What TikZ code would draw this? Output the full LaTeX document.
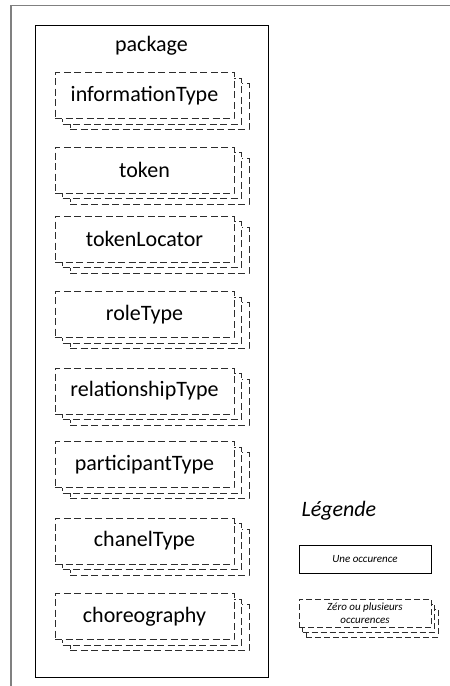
\documentclass[tikz,border=0pt]{standalone}
\usepackage{fontspec}
\setmainfont{Carlito}
\usetikzlibrary{shadows}

\definecolor{framegray}{RGB}{128,128,128}
\definecolor{dashgray}{RGB}{45,45,45}

\tikzset{
  dashbox/.style={draw=dashgray, dash pattern=on 7pt off 3.5pt, fill=white, line width=0.9pt},
  pile/.style={dashbox, minimum width=179pt, minimum height=46pt,
    font=\fontsize{22}{26}\selectfont,
    general shadow={shadow xshift=15pt, shadow yshift=-11pt, dashbox},
    general shadow={shadow xshift=7.5pt, shadow yshift=-5.5pt, dashbox}},
  smallpile/.style={dashbox, dash pattern=on 6pt off 3pt, minimum width=132pt, minimum height=28pt,
    align=center, font=\itshape\fontsize{11}{13.5}\selectfont,
    general shadow={shadow xshift=7pt, shadow yshift=-10pt, dashbox, dash pattern=on 6pt off 3pt},
    general shadow={shadow xshift=3.5pt, shadow yshift=-5pt, dashbox, dash pattern=on 6pt off 3pt}},
}

\begin{document}
\begin{tikzpicture}[x=1pt,y=-1pt]
  \useasboundingbox (0,0) rectangle (450,686);

  % outer frame, cut by the page
  \draw[framegray, line width=1.5pt] (11,700) -- (11,5.5) -- (470,5.5);

  % package
  \node[draw, line width=0.9pt, minimum width=233pt, minimum height=652pt] (package) at (151.5,351) {};
  \node[font=\fontsize{22}{26}\selectfont] (pkgname) at (151.5,46) {package};

  \foreach \name/\y in {informationType/95.5, token/170, tokenLocator/239, roleType/314.5,
      relationshipType/391, participantType/464.5, chanelType/541, choreography/616.5}
    \node[pile] (\name) at (144.5,\y) {\name};

  % legend
  \node[font=\itshape\fontsize{22}{26}\selectfont, anchor=base west] (legende) at (298,516) {Légende};
  \node[draw, line width=0.9pt, minimum width=132pt, minimum height=28pt,
    font=\itshape\fontsize{11}{13.5}\selectfont] (single) at (365,559) {Une occurence};
  \node[smallpile] (multi) at (365,613) {Zéro ou plusieurs\\occurences};

\end{tikzpicture}
\end{document}
